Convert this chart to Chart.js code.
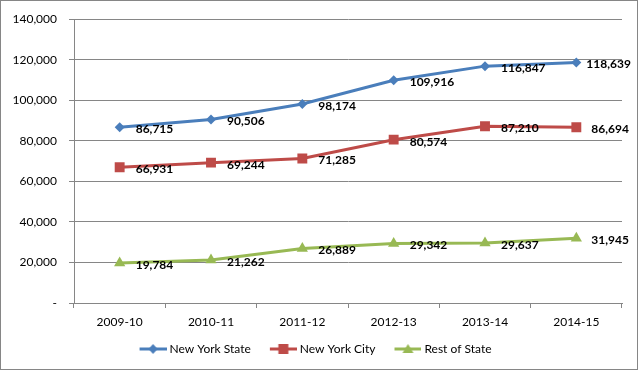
<!DOCTYPE html>
<html>
<head>
<meta charset="utf-8">
<script src="https://cdn.jsdelivr.net/npm/chart.js@4/dist/chart.umd.min.js"></script>
<style>
  html, body { margin: 0; padding: 0; background: #fff; }
  #wrap { position: relative; width: 643px; height: 374px; }
  #c { display: block; }
  #frame { position: absolute; left: 0; top: 0; width: 638px; height: 370px; border: 1px solid #868686; box-sizing: border-box; pointer-events: none; }
</style>
</head>
<body>
<div id="wrap">
  <canvas id="c" width="643" height="374"></canvas>
  <div id="frame"></div>
</div>
<script>
const categories = ['2009-10', '2010-11', '2011-12', '2012-13', '2013-14', '2014-15'];
const newYorkState = [86715, 90506, 98174, 109916, 116847, 118639];
const newYorkCity = [66931, 69244, 71285, 80574, 87210, 86694];
const restOfState = [19784, 21262, 26889, 29342, 29637, 31945];
const seriesNames = ['New York State', 'New York City', 'Rest of State'];

const colors = ['#4A7EBB', '#BE4B48', '#98B954'];
const styles = ['rectRot', 'rect', 'triangle'];
const radii = [5, 7, 6.5];
const lastLabelOffset = [10, 15, 15];
const FONT = 'Lato, "Open Sans", sans-serif';

const ICON_W = 39;
function legendIcon(color, style) {
  const cv = document.createElement('canvas');
  cv.width = ICON_W; cv.height = 12;
  const ctx = cv.getContext('2d');
  const x0 = ICON_W - 27;
  ctx.strokeStyle = color; ctx.fillStyle = color; ctx.lineWidth = 3;
  ctx.beginPath(); ctx.moveTo(x0, 6); ctx.lineTo(ICON_W, 6); ctx.stroke();
  ctx.beginPath();
  const cx = x0 + 13.5, cy = 6;
  if (style === 'rectRot') {
    ctx.moveTo(cx, cy - 5); ctx.lineTo(cx + 4.5, cy); ctx.lineTo(cx, cy + 5); ctx.lineTo(cx - 4.5, cy);
  } else if (style === 'rect') {
    ctx.rect(cx - 5, cy - 5, 10, 10);
  } else {
    ctx.moveTo(cx, cy - 5); ctx.lineTo(cx + 5.5, cy + 4); ctx.lineTo(cx - 5.5, cy + 4);
  }
  ctx.closePath(); ctx.fill();
  return cv;
}

const dataLabels = {
  id: 'dataLabels',
  afterDatasetsDraw(chart) {
    const ctx = chart.ctx;
    ctx.save();
    ctx.font = 'bold 12px ' + FONT;
    ctx.fillStyle = '#000';
    ctx.textAlign = 'left';
    ctx.textBaseline = 'middle';
    chart.data.datasets.forEach((ds, i) => {
      const meta = chart.getDatasetMeta(i);
      meta.data.forEach((pt, j) => {
        const last = j === meta.data.length - 1;
        ctx.fillText(ds.data[j].toLocaleString('en-US'), pt.x + (last ? lastLabelOffset[i] : 16), pt.y + 2);
      });
    });
    ctx.restore();
  }
};

const seriesData = [newYorkState, newYorkCity, restOfState];

new Chart(document.getElementById('c'), {
  type: 'line',
  data: {
    labels: categories,
    datasets: seriesData.map((d, i) => ({
      label: seriesNames[i],
      data: d,
      borderColor: colors[i],
      backgroundColor: colors[i],
      borderWidth: 3,
      pointStyle: styles[i],
      pointRadius: radii[i],
      pointBorderWidth: 0,
      pointBackgroundColor: colors[i],
      tension: 0,
      fill: false
    }))
  },
  options: {
    responsive: false,
    animation: false,
    layout: { autoPadding: false, padding: { left: 0, right: 21, top: 12, bottom: 9 } },
    plugins: {
      tooltip: { enabled: false },
      legend: {
        position: 'bottom',
        labels: {
          usePointStyle: true,
          pointStyleWidth: ICON_W - 6,
          padding: 10,
          color: '#000',
          font: { family: FONT, size: 12 },
          generateLabels(chart) {
            return chart.data.datasets.map((ds, i) => ({
              text: ds.label,
              pointStyle: legendIcon(colors[i], styles[i]),
              fillStyle: colors[i],
              strokeStyle: colors[i],
              lineWidth: 0,
              datasetIndex: i,
              hidden: false
            }));
          }
        }
      }
    },
    scales: {
      x: {
        offset: true,
        grid: { offset: true, drawOnChartArea: false, drawTicks: true, tickLength: 5, color: '#868686' },
        border: { display: true, color: '#868686', width: 1 },
        ticks: { color: '#000', padding: 7, font: { family: FONT, size: 12 }, maxRotation: 0 },
        afterFit(scale) { scale.height = 30; }
      },
      y: {
        min: 0, max: 140000,
        ticks: {
          stepSize: 20000,
          color: '#000',
          padding: 12,
          font: { family: FONT, size: 12 },
          callback: v => v === 0 ? '-' : v.toLocaleString('en-US')
        },
        grid: { color: '#868686', tickLength: 5, drawTicks: true },
        border: { display: true, color: '#868686', width: 1 },
        afterFit(scale) { scale.width = 74; }
      }
    }
  },
  plugins: [dataLabels]
});
</script>
</body>
</html>
